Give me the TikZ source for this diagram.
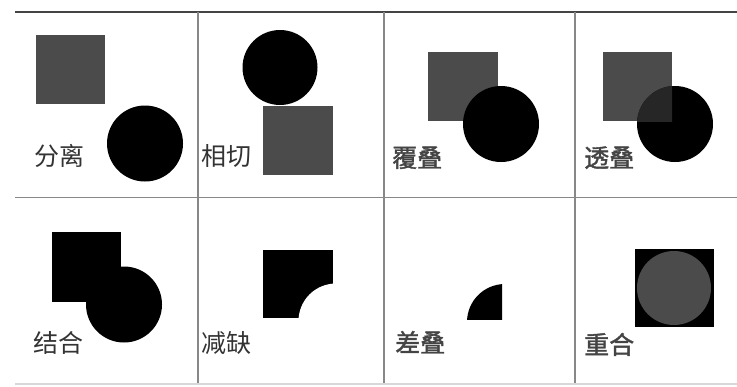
\documentclass[tikz,border=0pt]{standalone}
\usepackage{fontspec}
\newfontfamily\cjk{Noto Sans CJK SC}
\newfontfamily\cjkb[FakeBold=1.5]{Noto Sans CJK SC}
\definecolor{sqgray}{HTML}{4B4B4B}
\definecolor{ovgray}{HTML}{262626}
\definecolor{txtgray}{HTML}{333333}
\definecolor{txtgrayb}{HTML}{444444}
\definecolor{linegray}{HTML}{888888}
\definecolor{topgray}{HTML}{444444}
\definecolor{botgray}{HTML}{D8D8D8}
\begin{document}
\begin{tikzpicture}[x=1pt,y=-1pt,
  gridline/.style={draw=linegray,line width=1.6pt},
  sq/.style={fill=sqgray},
  blk/.style={fill=black},
  lbl/.style={font=\cjk\fontsize{25}{25}\selectfont,text=txtgray,anchor=base west,inner sep=0pt},
  lblb/.style={lbl,font=\cjkb\fontsize{25}{25}\selectfont,text=txtgrayb}]
\useasboundingbox (0,0) rectangle (737,386);
% grid
\draw[draw=topgray,line width=2.2pt] (15,12) -- (737,12);
\draw[gridline] (15,197.5) -- (737,197.5);
\draw[draw=botgray,line width=1.5pt] (15,384) -- (737,384);
\draw[gridline] (198,12) -- (198,383);
\draw[gridline] (384,12) -- (384,383);
\draw[gridline] (575,12) -- (575,383);
% cell 1: separate
\fill[sq] (36,35) rectangle (105,104);
\fill[blk] (145,143.5) circle (38);
\node[lbl] (l1) at (34,165) {分离};
% cell 2: tangent
\fill[blk] (280,67.5) circle (37.5);
\fill[sq] (263,106) rectangle (333,175);
\node[lbl] (l2) at (201,165) {相切};
% cell 3: cover
\fill[sq] (428,52) rectangle (498,121);
\fill[blk] (501,124) circle (38);
\node[lblb] (l3) at (392,167) {覆叠};
% cell 4: transparent overlap
\fill[sq] (603,52) rectangle (672,121);
\fill[blk] (675,124) circle (38);
\begin{scope}
\clip (603,52) rectangle (672,121);
\fill[ovgray] (675,124) circle (38);
\end{scope}
\node[lblb] (l4) at (584,167) {透叠};
% cell 5: union
\fill[blk] (52,232) rectangle (121,302);
\fill[blk] (124,304.5) circle (38);
\node[lbl] (l5) at (33,352) {结合};
% cell 6: subtract
\fill[blk] (263,250) rectangle (333,318);
\begin{scope}
\clip (263,250) rectangle (333,318);
\fill[white] (336,321) circle (37.5);
\end{scope}
\node[lbl] (l6) at (201,352) {减缺};
% cell 7: intersection
\begin{scope}
\clip (432,250) rectangle (502,319);
\fill[blk] (505,322) circle (38);
\end{scope}
\node[lblb] (l7) at (395,352) {差叠};
% cell 8: coincide
\fill[blk] (635,249) rectangle (714,327);
\fill[sq] (674,288) circle (37);
\node[lblb] (l8) at (584,354) {重合};
\end{tikzpicture}
\end{document}
